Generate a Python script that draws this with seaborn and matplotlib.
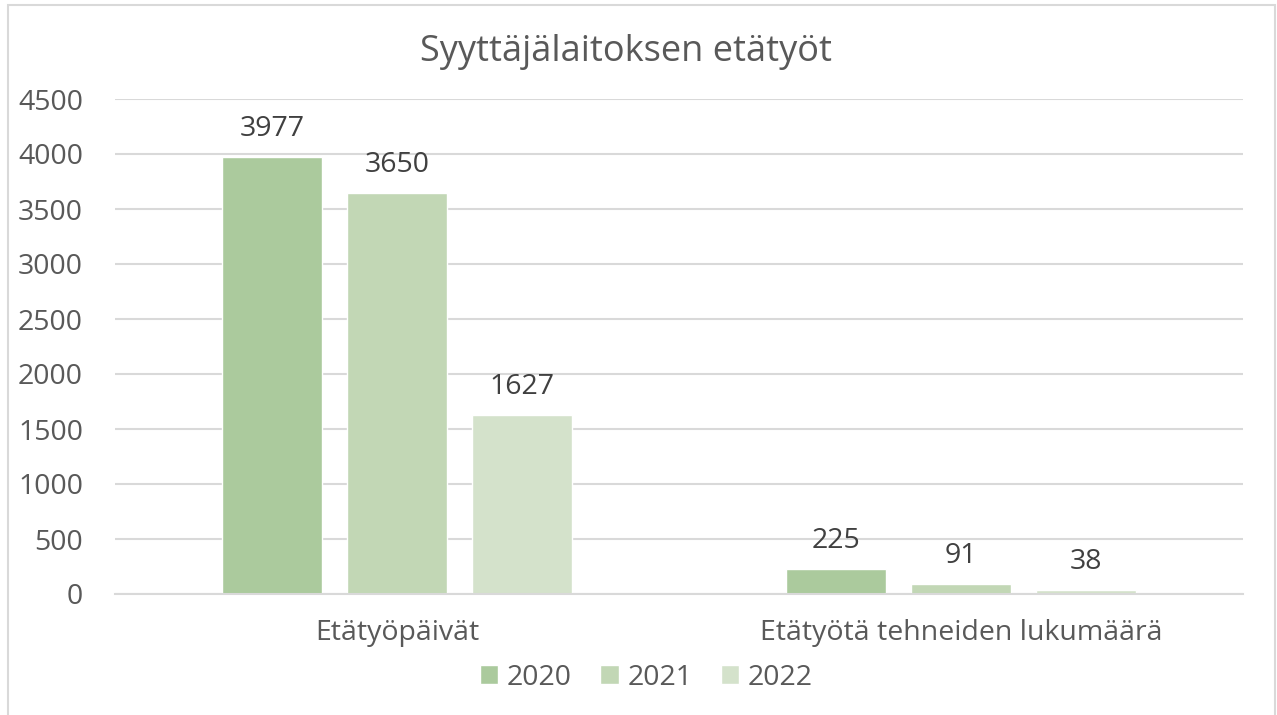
import matplotlib
matplotlib.use("Agg")
import matplotlib.pyplot as plt
import seaborn as sns
import pandas as pd
from matplotlib.patches import Rectangle

categories = ["Etätyöpäivät", "Etätyötä tehneiden lukumäärä"]
years = ["2020", "2021", "2022"]
values_2020 = [3977, 225]
values_2021 = [3650, 91]
values_2022 = [1627, 38]
colors = ["#ABCA9D", "#C2D7B5", "#D4E2CB"]

df = pd.DataFrame({
    "kategoria": categories * 3,
    "vuosi": [y for y in years for _ in categories],
    "arvo": values_2020 + values_2021 + values_2022,
})

sns.set_theme(style="white")
plt.rcParams["font.family"] = ["Open Sans", "DejaVu Sans"]

fig = plt.figure(figsize=(12.77, 7.15), dpi=100)
ax = fig.add_axes([115 / 1277, 1 - 594 / 715, 1128 / 1277, 495 / 715])

sns.barplot(data=df, x="kategoria", y="arvo", hue="vuosi", order=categories,
            hue_order=years, palette=colors, width=0.665, gap=0.2,
            saturation=1, ax=ax, legend=True)

ax.set_ylim(0, 4500)
ax.set_xlim(-0.5, 1.5)
ax.set_yticks(range(0, 4501, 500))
ax.yaxis.grid(True, color="#D9D9D9", linewidth=1.5)
ax.set_axisbelow(True)
for s in ["left", "right", "top"]:
    ax.spines[s].set_visible(False)
ax.spines["bottom"].set_color("#D9D9D9")
ax.spines["bottom"].set_linewidth(1.5)
ax.tick_params(axis="y", labelsize=20.5, colors="#595959", length=0, pad=23)
ax.tick_params(axis="x", labelsize=20.5, colors="#595959", length=0, pad=18)
ax.set_xlabel("")
ax.set_ylabel("")

for cont in ax.containers:
    ax.bar_label(cont, fmt="%d", padding=10, fontsize=20.5, color="#404040")

ax.legend(loc="center", bbox_to_anchor=(0.471, -0.169), ncol=3, frameon=False,
          fontsize=20.5, labelcolor="#595959", handlelength=0.65, handleheight=0.65,
          handletextpad=0.3, columnspacing=1.0)

fig.text(626 / 1277, 1 - 52 / 715, "Syyttäjälaitoksen etätyöt", ha="center", va="center",
         fontsize=26, color="#595959")

fig.patches.append(Rectangle((8 / 1277, -0.1), 1267 / 1277, 1.1 - 5 / 715,
                             transform=fig.transFigure, fill=False,
                             edgecolor="#D9D9D9", linewidth=1.5))

fig.savefig("out.png", dpi=100)
